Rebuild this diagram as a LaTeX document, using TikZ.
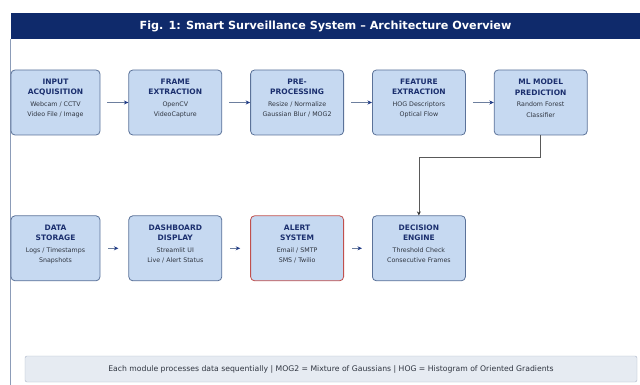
\documentclass[tikz,border=0pt]{standalone}
\usepackage{fontspec}
\setmainfont{DejaVu Sans}
\usetikzlibrary{positioning,arrows.meta}

\definecolor{navybar}{HTML}{0F2A6B}
\definecolor{boxfill}{HTML}{C6D9F1}
\definecolor{boxline}{HTML}{5B7299}
\definecolor{ttlcolor}{HTML}{1B2F6E}
\definecolor{sbtcolor}{HTML}{2F3540}
\definecolor{alertline}{HTML}{C0504D}
\definecolor{arrowline}{HTML}{6D7F9E}
\definecolor{navytip}{HTML}{1F3A86}
\definecolor{footfill}{HTML}{E6EBF2}
\definecolor{footline}{HTML}{A9B4C6}

\newcommand{\modttl}{\fontsize{7.5}{11}\selectfont\bfseries\color{ttlcolor}}
\newcommand{\modsbt}{\fontsize{6.3}{10}\selectfont\color{sbtcolor}}
\newcommand{\modtext}[4]{{\modttl #1}\\{\modttl #2}\\[1pt]{\modsbt #3}\\{\modsbt #4}}

\begin{document}
\begin{tikzpicture}[x=1pt, y=1pt, node distance=28pt]
    \useasboundingbox (0,0) rectangle (640,-385);
    % Styles
    \tikzstyle{module} = [rectangle, draw=boxline, fill=boxfill, line width=0.8pt,
        rounded corners=4pt, minimum width=93pt, minimum height=65pt,
        align=center, inner sep=2pt, text depth=9pt, font=\fontsize{7}{10.5}\selectfont]
    \tikzstyle{alertmodule} = [module, draw=alertline]
    \tikzstyle{arrow} = [draw=arrowline, line width=0.8pt,
        -{Stealth[length=4.5pt, width=4pt, color=navytip]}]
    \tikzstyle{elbow} = [draw=black!65, line width=0.8pt,
        -{Stealth[length=4pt, width=4pt, color=black!80]}]

    % === Title bar and panel ===
    \node [fill=navybar, minimum width=629pt, minimum height=26pt, inner sep=0pt,
        text=white, font=\fontsize{11.2}{13}\selectfont\bfseries] (title) at (325.5,-26)
        {Fig. 1: Smart Surveillance System -- Architecture Overview};
    \draw [boxline!70, line width=1pt] (title.south west) -- ++(0,-346);

    % === TOP ROW: Processing Pipeline ===
    \node [module, minimum width=89pt] (input) at (55.5,-102.5)
        {\modtext{INPUT}{ACQUISITION}{Webcam / CCTV}{Video File / Image}};
    \node [module, right=of input] (frame)
        {\modtext{FRAME}{EXTRACTION}{OpenCV}{VideoCapture}};
    \node [module, right=of frame] (preproc)
        {\modtext{PRE-}{PROCESSING}{Resize / Normalize}{Gaussian Blur / MOG2}};
    \node [module, right=of preproc] (feature)
        {\modtext{FEATURE}{EXTRACTION}{HOG Descriptors}{Optical Flow}};
    \node [module, right=of feature] (mlmodel)
        {\modtext{ML MODEL}{PREDICTION}{Random Forest}{Classifier}};

    % === BOTTOM ROW: Output Side ===
    \node [module, minimum width=89pt, below=80pt of input] (storage)
        {\modtext{DATA}{STORAGE}{Logs / Timestamps}{Snapshots}};
    \node [module, right=of storage] (dashboard)
        {\modtext{DASHBOARD}{DISPLAY}{Streamlit UI}{Live / Alert Status}};
    \node [alertmodule, right=of dashboard] (alert)
        {\modtext{ALERT}{SYSTEM}{Email / SMTP}{SMS / Twilio}};
    \node [module, right=of alert] (decision)
        {\modtext{DECISION}{ENGINE}{Threshold Check}{Consecutive Frames}};

    % === ARROWS: Top Row ===
    \draw [arrow] ([xshift=7pt]input.east) -- (frame.west);
    \draw [arrow] ([xshift=7pt]frame.east) -- (preproc.west);
    \draw [arrow] ([xshift=7pt]preproc.east) -- (feature.west);
    \draw [arrow] ([xshift=7pt]feature.east) -- (mlmodel.west);

    % === ARROWS: Prediction to Decision ===
    \draw [elbow] (mlmodel.south) -- ++(0,-22) -| (decision.north);

    % === ARROWS: Bottom Row ===
    \draw [arrow] ([xshift=8pt]storage.east) -- ([xshift=-10pt]dashboard.west);
    \draw [arrow] ([xshift=8pt]dashboard.east) -- ([xshift=-10pt]alert.west);
    \draw [arrow] ([xshift=8pt]alert.east) -- ([xshift=-10pt]decision.west);

    % === Footer note ===
    \node [rectangle, draw=footline, fill=footfill, rounded corners=2pt,
        minimum width=612pt, minimum height=26pt, inner sep=0pt,
        font=\fontsize{7.7}{9}\selectfont, text=sbtcolor] (note) at (331,-369)
        {Each module processes data sequentially | MOG2 = Mixture of Gaussians | HOG = Histogram of Oriented Gradients};
\end{tikzpicture}
\end{document}
